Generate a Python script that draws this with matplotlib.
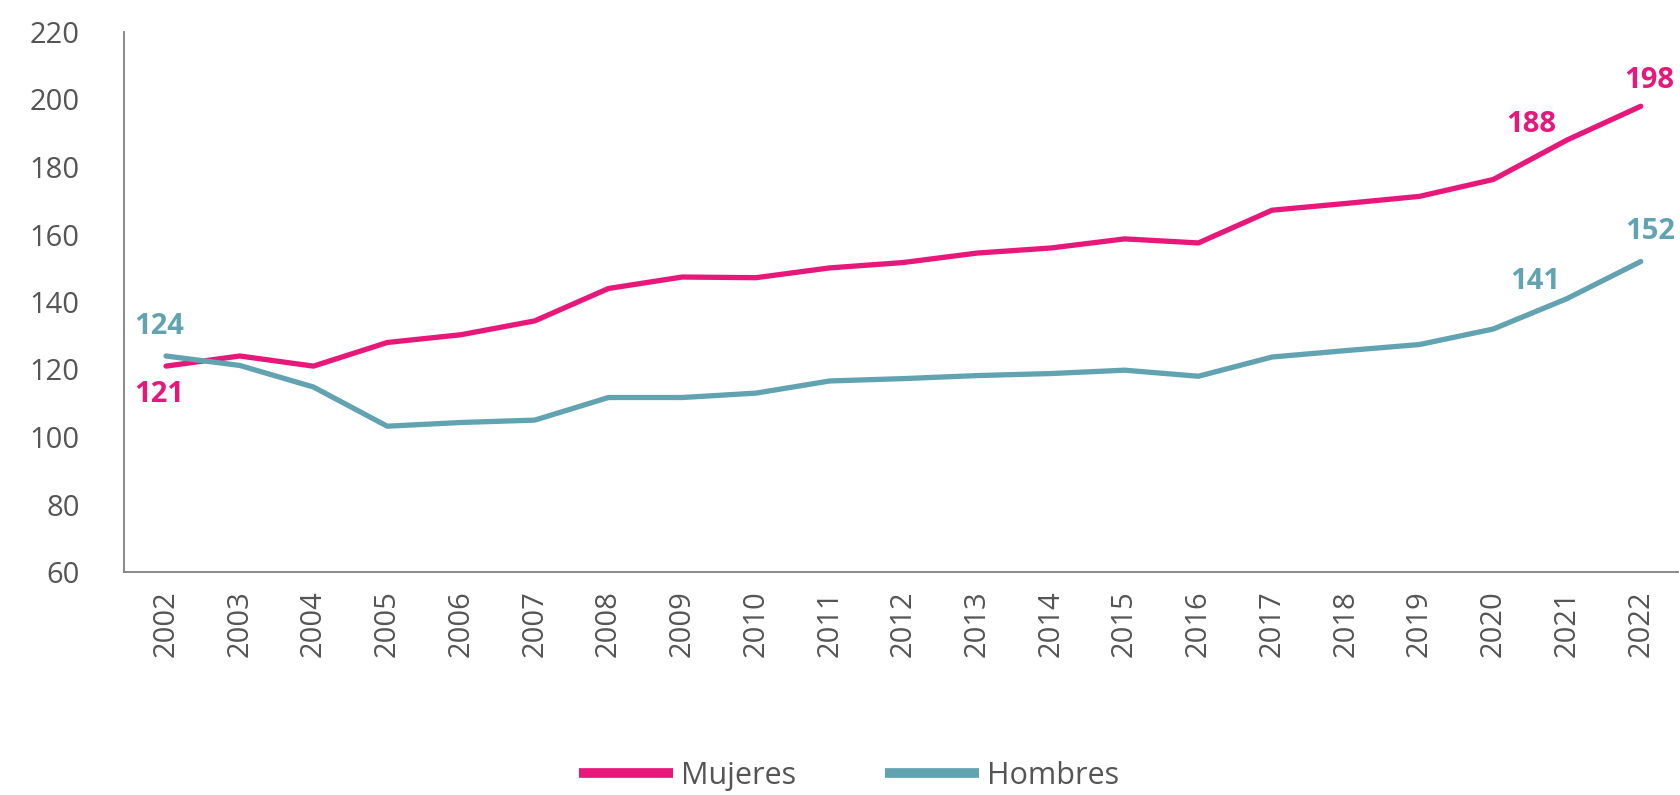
import matplotlib
matplotlib.use("Agg")
import matplotlib.pyplot as plt

years = [str(y) for y in range(2002, 2023)]
mujeres = [121, 124, 121, 128, 130.3, 134.4, 144, 147.4, 147.2, 150.1, 151.7,
           154.5, 156, 158.7, 157.5, 167.2, 169.2, 171.3, 176.3, 188, 198]
hombres = [124, 121.2, 114.8, 103.2, 104.3, 105, 111.7, 111.7, 113, 116.6, 117.3,
           118.2, 118.8, 119.8, 118, 123.7, 125.6, 127.4, 132, 141, 152]
yticks = [60, 80, 100, 120, 140, 160, 180, 200, 220]

PINK = "#E8177A"
TEAL = "#62A3B2"
GRAY = "#555555"

plt.rcParams['font.family'] = ['Open Sans', 'DejaVu Sans']

fig = plt.figure(figsize=(16.81, 7.95), dpi=100)
ax = fig.add_axes([124/1681, 1-572/795, 1-124/1681 - 0.002, (572-32)/795])

x = list(range(len(years)))
ax.plot(x, mujeres, color=PINK, lw=3.8, label="Mujeres", solid_capstyle='round')
ax.plot(x, hombres, color=TEAL, lw=3.8, label="Hombres", solid_capstyle='round')

ax.set_xlim(-0.57, 20.5)
ax.set_ylim(60, 220)
ax.set_yticks(yticks)
ax.set_xticks(x)
ax.set_xticklabels(years, rotation=90)
ax.tick_params(axis='both', length=0, labelsize=21, labelcolor=GRAY)
ax.tick_params(axis='y', pad=32)
ax.tick_params(axis='x', pad=13)
for s in ['top', 'right']:
    ax.spines[s].set_visible(False)
for s in ['left', 'bottom']:
    ax.spines[s].set_color('#808080')
    ax.spines[s].set_linewidth(1.3)

def lab(i, vals, text, dx, dy, color):
    ax.annotate(text, (i, vals[i]), xytext=(dx*0.72, dy*0.72), textcoords='offset points',
                ha='center', va='center', fontsize=21, fontweight='bold', color=color)

lab(0, mujeres, "121", -7, -28, PINK)
lab(0, hombres, "124", -7, 29, TEAL)
lab(19, mujeres, "188", -36, 15, PINK)
lab(19, hombres, "141", -32, 17, TEAL)
lab(20, mujeres, "198", 8, 26, PINK)
lab(20, hombres, "152", 9, 30, TEAL)

leg = fig.legend(loc='center', bbox_to_anchor=(0.505, 0.024), ncol=2, frameon=False,
                 fontsize=22, handlelength=3.1, handletextpad=0.25, columnspacing=2.9,
                 labelcolor=GRAY)
for h in leg.legend_handles:
    h.set_linewidth(7)
    h.set_solid_capstyle('butt')

fig.savefig("out.png", dpi=100)
